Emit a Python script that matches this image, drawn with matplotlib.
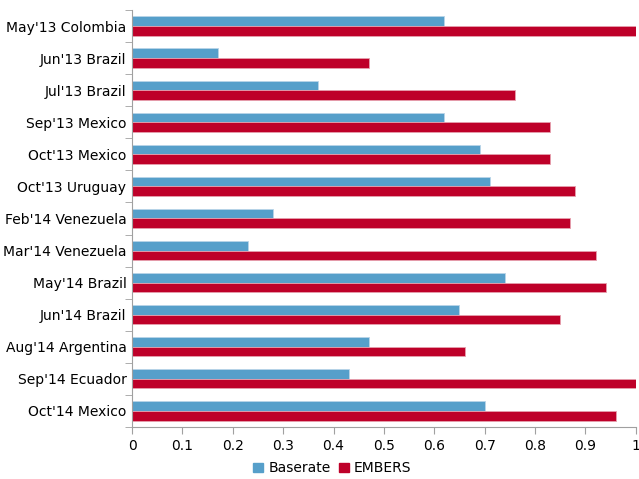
import matplotlib
matplotlib.use("Agg")
import matplotlib.pyplot as plt
import numpy as np
from matplotlib.patches import Patch

categories = ["May'13 Colombia", "Jun'13 Brazil", "Jul'13 Brazil", "Sep'13 Mexico",
              "Oct'13 Mexico", "Oct'13 Uruguay", "Feb'14 Venezuela", "Mar'14 Venezuela",
              "May'14 Brazil", "Jun'14 Brazil", "Aug'14 Argentina", "Sep'14 Ecuador",
              "Oct'14 Mexico"]
baserate = [0.62, 0.17, 0.37, 0.62, 0.69, 0.71, 0.28, 0.23, 0.74, 0.65, 0.47, 0.43, 0.70]
embers = [1.00, 0.47, 0.76, 0.83, 0.83, 0.88, 0.87, 0.92, 0.94, 0.85, 0.66, 1.00, 0.96]
xticklabels = ['0', '0.1', '0.2', '0.3', '0.4', '0.5', '0.6', '0.7', '0.8', '0.9', '1']

plt.rcParams['font.family'] = ['DejaVu Sans']
fig = plt.figure(figsize=(6.39, 4.79), dpi=100)
ax = fig.add_axes([0.2066, 0.1086, 0.7884, 0.8706])

n = len(categories)
y = np.arange(n)
h = 0.3
ax.barh(y - h/2, baserate, height=h, color='#569FCA', edgecolor='#B9D4E8', linewidth=0.6)
ax.barh(y + h/2, embers, height=h, color='#BE0029', edgecolor='#E6A0AE', linewidth=0.6)

ax.set_ylim(n - 0.5, -0.5)
ax.set_xlim(0, 1)
ax.set_xticks(np.linspace(0, 1, 11))
ax.set_xticklabels(xticklabels)
ax.set_yticks(y)
ax.set_yticklabels(categories)
ax.tick_params(axis='y', length=0, pad=4, labelsize=10)
ax.set_yticks(np.arange(-0.5, n, 1), minor=True)
ax.tick_params(axis='y', which='minor', length=5, color='#A0A0A0', direction='out')
ax.tick_params(axis='x', length=5, color='#A0A0A0', direction='out', labelsize=10, pad=4)
for s in ['top', 'right']:
    ax.spines[s].set_visible(False)
for s in ['left', 'bottom']:
    ax.spines[s].set_color('#A0A0A0')

handles = [Patch(color='#569FCA', label='Baserate'), Patch(color='#BE0029', label='EMBERS')]
fig.legend(handles=handles, loc='center', bbox_to_anchor=(0.52, 0.022), ncol=2, frameon=False,
           fontsize=10, handlelength=0.7, handleheight=0.7, columnspacing=0.6, handletextpad=0.4)

fig.savefig("out.png", dpi=100)
